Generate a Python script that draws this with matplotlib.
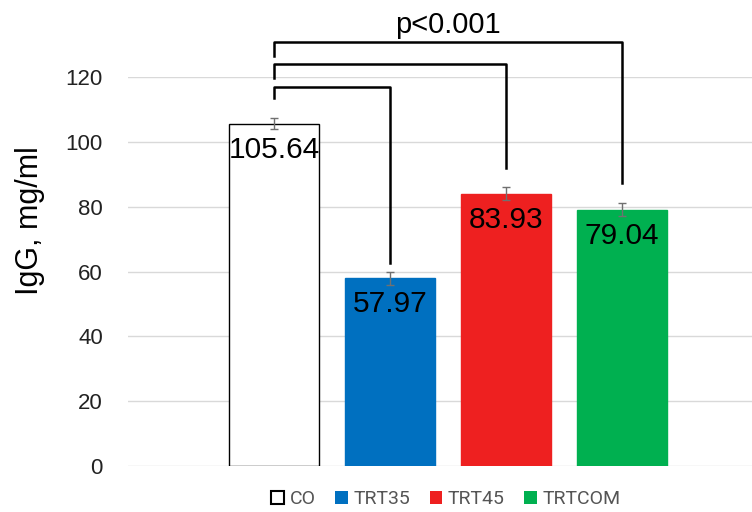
import numpy as np
import matplotlib.pyplot as plt
from matplotlib.patches import Patch

plt.rcParams['font.family'] = ['Liberation Sans', 'DejaVu Sans']

# IgG-Konzentration je Gruppe
groups = ['CO', 'TRT35', 'TRT45', 'TRTCOM']
igg = [105.64, 57.97, 83.93, 79.04]
igg_err = [1.8, 2.0, 2.0, 2.0]
colors = ['white', '#0070C0', '#EE2020', '#00B050']
edges = ['black', '#0070C0', '#EE2020', '#00B050']

# Signifikanzklammern: (Zielgruppe, Höhe der Klammer, unteres Ende links, unteres Ende rechts)
brackets = [(1, 117.0, 113.6, 62.6),
            (2, 124.0, 119.8, 92.0),
            (3, 130.9, 126.5, 87.3)]
p_text = 'p<0.001'

fig = plt.figure(figsize=(7.52, 5.12), dpi=100)
ax = fig.add_axes([0.170, 0.0898, 0.830, 0.7598])

x = np.arange(len(groups))
ax.bar(x, igg, width=0.78, color=colors, edgecolor=edges, linewidth=1.0, zorder=2)
ax.errorbar(x, igg, yerr=igg_err, fmt='none', ecolor='#707070',
            elinewidth=1.0, capsize=3, capthick=1.0, zorder=3)

for xi, v in zip(x, igg):
    ax.annotate(f'{v:.2f}', xy=(xi, v), xytext=(0, -26), textcoords='offset pixels',
                ha='center', va='center', fontsize=21.5, color='black', zorder=4)

for target, top, left_low, right_low in brackets:
    ax.plot([0, 0, target, target], [left_low, top, top, right_low],
            color='black', linewidth=1.8, clip_on=False, zorder=5)
ax.text(1.5, 136.0, p_text, ha='center', va='center', fontsize=21, clip_on=False)

ax.set_xlim(-1.26, 4.12)
ax.set_ylim(0, 120)
ax.set_yticks(np.arange(0, 121, 20))
ax.tick_params(axis='y', length=0, labelsize=16, pad=18, labelcolor='#222222')
ax.set_xticks([])
ax.grid(axis='y', color='#d9d9d9', linewidth=1.0, zorder=0)
ax.set_axisbelow(True)
for s in ax.spines.values():
    s.set_visible(False)
ax.set_ylabel('IgG, mg/ml', fontsize=22)
ax.yaxis.set_label_coords(-0.132, 0.632)

handles = [Patch(facecolor=c, edgecolor=e, linewidth=1.5 if c == 'white' else 0)
           for c, e in zip(colors, edges)]
fig.legend(handles, groups, loc='center', bbox_to_anchor=(0.593, 0.025), ncol=4,
           frameon=False, prop={'family': 'Roboto', 'size': 14},
           handlelength=0.65, handleheight=0.65,
           handletextpad=0.3, columnspacing=1.0, labelcolor='#555555')

fig.savefig('out.png', dpi=100)
